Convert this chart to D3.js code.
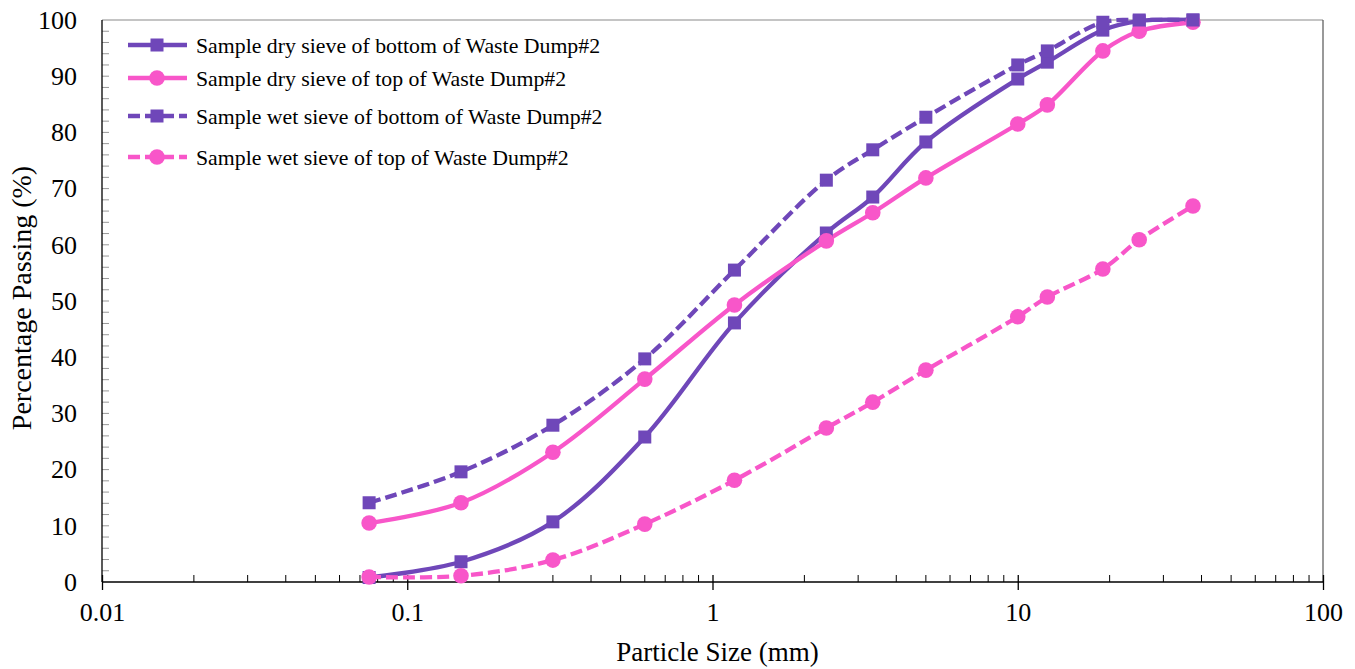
<!DOCTYPE html>
<html>
<head>
<meta charset="utf-8">
<script src="https://cdn.jsdelivr.net/npm/d3@7"></script>
<style>
  html, body { margin: 0; padding: 0; background: #fff; }
  svg { display: block; }
  text { font-family: "Liberation Serif", "Times New Roman", serif; fill: #000; }
</style>
</head>
<body>
<svg id="chart" width="1355" height="669"></svg>
<script>
// Sieve sizes (mm)
const sieveSizes = [0.075, 0.15, 0.3, 0.6, 1.18, 2.36, 3.35, 5, 10, 12.5, 19, 25, 37.5];

// Percentage passing for each sample
const dryBottom = [0.8, 3.6, 10.7, 25.8, 46.1, 62.1, 68.5, 78.3, 89.5, 92.5, 98.2, 99.8, 100];
const dryTop    = [10.5, 14.1, 23.1, 36.1, 49.3, 60.7, 65.7, 71.9, 81.5, 84.9, 94.5, 98.0, 99.6];
const wetBottom = [14.1, 19.6, 27.9, 39.7, 55.5, 71.5, 76.9, 82.7, 92.0, 94.5, 99.6, 100, 100];
const wetTop    = [0.9, 1.1, 3.9, 10.3, 18.1, 27.4, 32.0, 37.7, 47.2, 50.7, 55.7, 60.9, 66.9];

const seriesNames = [
  "Sample dry sieve of bottom of Waste Dump#2",
  "Sample dry sieve of top of Waste Dump#2",
  "Sample wet sieve of bottom of Waste Dump#2",
  "Sample wet sieve of top of Waste Dump#2"
];

const xTickValues = [0.01, 0.1, 1, 10, 100];
const xTickLabels = ["0.01", "0.1", "1", "10", "100"];
const yTickValues = [0, 10, 20, 30, 40, 50, 60, 70, 80, 90, 100];

const purple = "#6f47b9";
const pink = "#f856c9";

const series = [
  { name: seriesNames[0], values: dryBottom, color: purple, marker: "square", dashed: false },
  { name: seriesNames[1], values: dryTop,    color: pink,   marker: "circle", dashed: false },
  { name: seriesNames[2], values: wetBottom, color: purple, marker: "square", dashed: true },
  { name: seriesNames[3], values: wetTop,    color: pink,   marker: "circle", dashed: true }
];

const W = 1355, H = 669;
const margin = { left: 102, right: 32, top: 20, bottom: 87 };
const iw = W - margin.left - margin.right;
const ih = H - margin.top - margin.bottom;
const dash = "12,5";

const svg = d3.select("#chart");
const g = svg.append("g").attr("transform", `translate(${margin.left},${margin.top})`);

const x = d3.scaleLog().domain([0.01, 100]).range([0, iw]);
const y = d3.scaleLinear().domain([0, 100]).range([ih, 0]);

// Plot frame (top and right)
g.append("line").attr("x1", 0).attr("x2", iw).attr("y1", 0).attr("y2", 0)
  .attr("stroke", "#8a8a8a").attr("stroke-width", 1.2);
g.append("line").attr("x1", iw).attr("x2", iw).attr("y1", 0).attr("y2", ih)
  .attr("stroke", "#555").attr("stroke-width", 1.2);

// X axis: minor ticks point inward, major ticks cross the axis
const xMinor = [];
for (let d = -2; d < 2; d++) for (let k = 2; k <= 9; k++) xMinor.push(k * Math.pow(10, d));
const xAxisG = g.append("g").attr("transform", `translate(0,${ih})`);
xAxisG.append("line").attr("x1", 0).attr("x2", iw).attr("stroke", "#000").attr("stroke-width", 1.3);
xAxisG.selectAll(".xminor").data(xMinor).join("line")
  .attr("x1", d => x(d)).attr("x2", d => x(d)).attr("y1", 0).attr("y2", -7)
  .attr("stroke", "#000").attr("stroke-width", 1);
const xAxis = d3.axisBottom(x).tickValues(xTickValues)
  .tickFormat((d, i) => xTickLabels[i]).tickSizeInner(8).tickSizeOuter(0).tickPadding(13);
const xa = xAxisG.append("g").call(xAxis);
xa.select(".domain").remove();
xa.selectAll(".tick line").attr("y1", -7).attr("stroke", "#000").attr("stroke-width", 1.3);
xa.selectAll(".tick text").style("font-size", "26px").attr("font-family", "Liberation Serif");

// Y axis: ticks every 2 units pointing inward
const yMinor = d3.range(2, 100, 2);
const yAxisG = g.append("g");
yAxisG.selectAll(".yminor").data(yMinor).join("line")
  .attr("x1", 0).attr("x2", 7).attr("y1", d => y(d)).attr("y2", d => y(d))
  .attr("stroke", "#999").attr("stroke-width", 1);
yAxisG.append("line").attr("y1", 0).attr("y2", ih).attr("stroke", "#000").attr("stroke-width", 1.3);
const yAxis = d3.axisLeft(y).tickValues(yTickValues).tickSizeInner(0).tickSizeOuter(0).tickPadding(25);
const ya = yAxisG.append("g").call(yAxis);
ya.select(".domain").remove();
ya.selectAll(".tick line").remove();
ya.selectAll(".tick text").style("font-size", "26px").attr("font-family", "Liberation Serif");

// Axis titles
svg.append("text")
  .attr("x", margin.left + iw / 2 + 5).attr("y", 661)
  .attr("text-anchor", "middle").style("font-size", "27px")
  .text("Particle Size (mm)");
svg.append("text")
  .attr("transform", `translate(31,${margin.top + ih / 2 - 3}) rotate(-90)`)
  .attr("text-anchor", "middle").style("font-size", "28px")
  .text("Percentage Passing (%)");

// Curves
const line = d3.line()
  .x(d => x(d[0])).y(d => y(d[1]))
  .curve(d3.curveCatmullRom.alpha(0.5));

const plot = g.append("g");
series.forEach(s => {
  const pts = sieveSizes.map((sz, i) => [sz, s.values[i]]);
  plot.append("path").datum(pts)
    .attr("d", line)
    .attr("fill", "none")
    .attr("stroke", s.color)
    .attr("stroke-width", 4.3)
    .attr("stroke-dasharray", s.dashed ? dash : null);
});

function drawMarker(sel, s, cx, cy) {
  if (s.marker === "square") {
    sel.append("rect").attr("x", cx - 6.5).attr("y", cy - 6.5)
      .attr("width", 13).attr("height", 13).attr("fill", s.color);
  } else {
    sel.append("circle").attr("cx", cx).attr("cy", cy).attr("r", 7.8).attr("fill", s.color);
  }
}

series.forEach(s => {
  const mg = plot.append("g");
  sieveSizes.forEach((sz, i) => drawMarker(mg, s, x(sz), y(s.values[i])));
});

// Legend
const legendRows = [45, 78, 116, 157];
const legend = svg.append("g");
series.forEach((s, i) => {
  const ly = legendRows[i];
  legend.append("line")
    .attr("x1", 128).attr("x2", 187).attr("y1", ly).attr("y2", ly)
    .attr("stroke", s.color).attr("stroke-width", 4.3)
    .attr("stroke-dasharray", s.dashed ? dash : null);
  drawMarker(legend, s, 157, ly);
  legend.append("text")
    .attr("x", 196).attr("y", ly).attr("dy", "0.35em")
    .style("font-size", "21.8px")
    .text(s.name);
});
</script>
</body>
</html>
